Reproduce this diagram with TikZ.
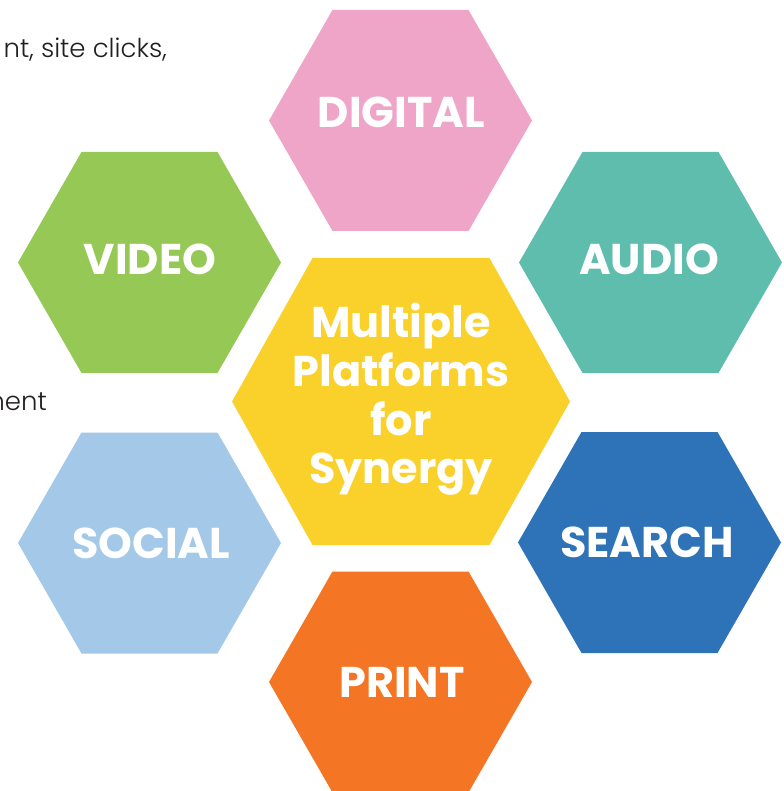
\documentclass[tikz,border=0pt]{standalone}
\usepackage{fontspec}
\setmainfont{Poppins}
\newfontfamily\lightfont{Poppins Light}
\definecolor{hexpink}{HTML}{EFA5C8}
\definecolor{hexgreen}{HTML}{95C855}
\definecolor{hexteal}{HTML}{5FBDAE}
\definecolor{hexyellow}{HTML}{F9D12A}
\definecolor{hexsky}{HTML}{A4C9E8}
\definecolor{hexblue}{HTML}{2E72B8}
\definecolor{hexorange}{HTML}{F47523}
\definecolor{bodygray}{HTML}{231F20}
% flat-topped hexagon: centre, half width, half height, half top edge, colour
\newcommand\hexcell[5]{%
  \fill[#5,shift={(#1)}] (-#2,0) -- (-#4,-#3) -- (#4,-#3) -- (#2,0)
    -- (#4,#3) -- (-#4,#3) -- cycle;}
\begin{document}
\begin{tikzpicture}[x=1pt,y=-1pt,
  hexlabel/.style={text=white,font=\fontsize{43}{49}\selectfont\bfseries,
    inner sep=0pt,anchor=base},
  bodytext/.style={text=bodygray,font=\lightfont\fontsize{26}{30}\selectfont,
    inner sep=0pt,anchor=base east}]
\useasboundingbox (0,0) rectangle (783,791);
\clip (0,0) rectangle (783,791);

% centres of the seven cells
\coordinate (digital) at (400.5,120.5);
\coordinate (video)   at (149.5,262.5);
\coordinate (audio)   at (650.5,262.5);
\coordinate (core)    at (401,401.5);
\coordinate (social)  at (149.5,543);
\coordinate (search)  at (649.5,542.5);
\coordinate (print)   at (400.5,682);

\hexcell{digital}{131.5}{110.5}{68}{hexpink}
\hexcell{video}{131.5}{110.5}{68}{hexgreen}
\hexcell{audio}{131.5}{110.5}{68}{hexteal}
\hexcell{social}{131.5}{110.5}{68}{hexsky}
\hexcell{search}{131.5}{110.5}{68}{hexblue}
\hexcell{print}{131.5}{110.5}{68}{hexorange}
\hexcell{core}{169}{143.5}{88.5}{hexyellow}

% cell labels
\node[hexlabel] (digitalText) at (401.5,128) {DIGITAL};
\node[hexlabel] (videoText)   at (150,274)   {VIDEO};
\node[hexlabel] (audioText)   at (649,274)   {AUDIO};
\node[hexlabel] (socialText)  at (151,558)   {SOCIAL};
\node[hexlabel] (searchText)  at (647,557)   {SEARCH};
\node[hexlabel] (printText)   at (402,697)   {PRINT};

\node[hexlabel] (coreA) at (401,337) {Multiple};
\node[hexlabel] (coreB) at (401,386) {Platforms};
\node[hexlabel] (coreC) at (401,435) {for};
\node[hexlabel] (coreD) at (401,483) {Synergy};

% running text cut by the left edge
\node[bodytext] (noteTop) at (167,58)  {nt, site clicks,};
\node[bodytext] (noteMid) at (47,410)  {ment};
\end{tikzpicture}
\end{document}
